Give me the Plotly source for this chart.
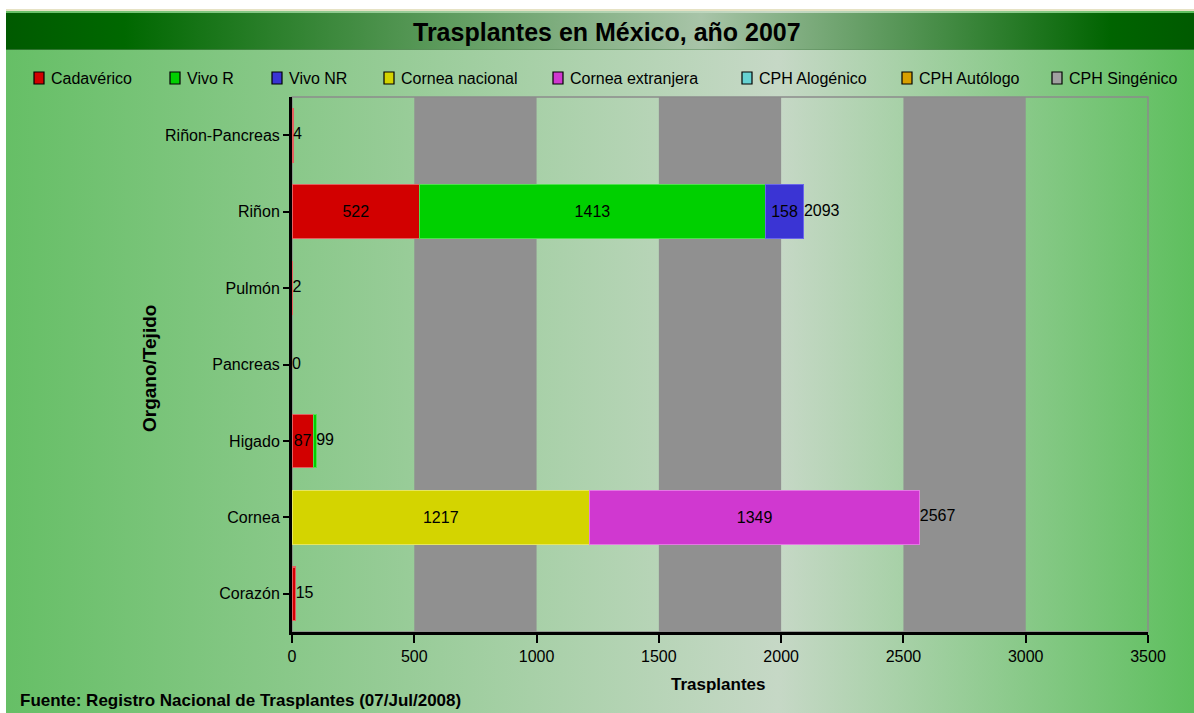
import base64
import plotly.graph_objects as go

# ---------------- data ----------------
categories = ["Riñon-Pancreas", "Riñon", "Pulmón", "Pancreas", "Higado", "Cornea", "Corazón"]
cadaverico = [4, 522, 2, 0, 87, 0, 15]
vivo_r = [0, 1413, 0, 0, 12, 0, 0]
vivo_nr = [0, 158, 0, 0, 0, 0, 0]
cornea_nacional = [0, 0, 0, 0, 0, 1217, 0]
cornea_extranjera = [0, 0, 0, 0, 0, 1349, 0]
cph_alogenico = [0, 0, 0, 0, 0, 0, 0]
cph_autologo = [0, 0, 0, 0, 0, 0, 0]
cph_singenico = [0, 0, 0, 0, 0, 0, 0]
totals = [4, 2093, 2, 0, 99, 2567, 15]
x_ticks = [0, 500, 1000, 1500, 2000, 2500, 3000, 3500]

series_names = ["Cadavérico", "Vivo R", "Vivo NR", "Cornea nacional", "Cornea extranjera",
                "CPH Alogénico", "CPH Autólogo", "CPH Singénico"]
series_values = [cadaverico, vivo_r, vivo_nr, cornea_nacional, cornea_extranjera,
                 cph_alogenico, cph_autologo, cph_singenico]

# ---------------- style ----------------
fill_colors = ["#d20000", "#00d000", "#3a34d4", "#d4d400", "#d038d0", "#66d2d2", "#d8a000", "#a0a0a0"]
edge_colors = ["#e46060", "#50e050", "#6a66ea", "#e6e660", "#e478e4", "#90e0e0", "#e8c040", "#c0c0c0"]
legend_swatch_x = [34, 170, 272, 384, 553, 742, 902, 1052]

W, H = 1194, 713
PL, PR, PT, PB = 292, 1148, 97, 632
FONT = "Liberation Sans, Arial, sans-serif"


def px_x(p):
    return (p - PL) / (PR - PL)


def px_y(p):
    return (PB - p) / (PB - PT)


fig = go.Figure()

for name, vals, fc, ec in zip(series_names, series_values, fill_colors, edge_colors):
    if not any(vals):
        continue
    fig.add_trace(go.Bar(
        name=name,
        y=categories,
        x=[v if v else None for v in vals],
        orientation="h",
        width=0.7,
        marker=dict(color=fc, line=dict(color=ec, width=1.2)),
        text=[str(v) if v >= 50 else "" for v in vals],
        textposition="inside",
        insidetextanchor="middle",
        textangle=0,
        constraintext="none",
        textfont=dict(family=FONT, size=16, color="black"),
        showlegend=False,
        cliponaxis=False,
    ))

fig.add_trace(go.Scatter(
    y=categories,
    x=totals,
    mode="text",
    text=[str(t) for t in totals],
    textposition="middle right",
    textfont=dict(family=FONT, size=16, color="black"),
    showlegend=False,
    hoverinfo="skip",
    cliponaxis=False,
))

# ---------------- background (gradient svg) ----------------
svg = f'''<svg xmlns="http://www.w3.org/2000/svg" width="{W}" height="{H}" viewBox="0 0 {W} {H}">
<defs>
<linearGradient id="bg" x1="0" y1="0" x2="1" y2="0">
<stop offset="0" stop-color="#66bf66"/>
<stop offset="0.65" stop-color="#c6d8c6"/>
<stop offset="1" stop-color="#5ebf5e"/>
</linearGradient>
<linearGradient id="tb" x1="0" y1="0" x2="1" y2="0">
<stop offset="0" stop-color="#005a00"/>
<stop offset="0.10" stop-color="#006800"/>
<stop offset="0.585" stop-color="#a8c4a8"/>
<stop offset="0.93" stop-color="#006400"/>
<stop offset="1" stop-color="#005a00"/>
</linearGradient>
</defs>
<rect x="0" y="0" width="{W}" height="{H}" fill="#ffffff"/>
<rect x="6" y="9" width="{W-6}" height="2" fill="#e6e2c4"/>
<rect x="6" y="11" width="{W-6}" height="{H-11}" fill="url(#bg)"/>
<rect x="6" y="13" width="{W-6}" height="37" fill="url(#tb)"/>
<rect x="6" y="49" width="{W-6}" height="1" fill="#5a8a5a" opacity="0.5"/>
</svg>'''
src = "data:image/svg+xml;base64," + base64.b64encode(svg.encode("utf-8")).decode("ascii")
fig.add_layout_image(dict(
    source=src, xref="paper", yref="paper",
    x=px_x(0), y=px_y(0), sizex=W / (PR - PL), sizey=H / (PB - PT),
    xanchor="left", yanchor="top", sizing="stretch", layer="below",
))

shapes = []
# alternating gray bands every other tick interval
for i in range(1, len(x_ticks) - 1, 2):
    shapes.append(dict(type="rect", xref="x", yref="paper", x0=x_ticks[i], x1=x_ticks[i + 1],
                       y0=0, y1=1, fillcolor="#909090", line=dict(width=0), layer="below"))
# plot border
shapes.append(dict(type="rect", xref="paper", yref="paper", x0=0, x1=1, y0=0, y1=1,
                   line=dict(color="#8c8c8c", width=1.5), fillcolor="rgba(0,0,0,0)", layer="below"))
# legend swatches
for sx, fc in zip(legend_swatch_x, fill_colors):
    shapes.append(dict(type="rect", xref="paper", yref="paper",
                       x0=px_x(sx), x1=px_x(sx + 10), y0=px_y(84), y1=px_y(72),
                       fillcolor=fc, line=dict(color="black", width=1.2), layer="above"))

annotations = [
    dict(text="<b>Trasplantes en México, año 2007</b>", xref="paper", yref="paper",
         x=px_x(607), y=px_y(32), xanchor="center", yanchor="middle", showarrow=False,
         font=dict(family=FONT, size=25, color="black")),
    dict(text="<b>Trasplantes</b>", xref="paper", yref="paper",
         x=px_x(718), y=px_y(684), xanchor="center", yanchor="middle", showarrow=False,
         font=dict(family=FONT, size=17, color="black")),
    dict(text="<b>Organo/Tejido</b>", xref="paper", yref="paper", textangle=-90,
         x=px_x(149), y=px_y(369), xanchor="center", yanchor="middle", showarrow=False,
         font=dict(family=FONT, size=19, color="black")),
    dict(text="<b>Fuente: Registro Nacional de Trasplantes (07/Jul/2008)</b>", xref="paper", yref="paper",
         x=px_x(18), y=px_y(700), xanchor="left", yanchor="middle", showarrow=False,
         font=dict(family=FONT, size=17, color="black")),
]
for sx, name in zip(legend_swatch_x, series_names):
    annotations.append(dict(text=name, xref="paper", yref="paper",
                            x=px_x(sx + 15), y=px_y(78), xanchor="left", yanchor="middle",
                            showarrow=False, font=dict(family=FONT, size=16, color="black")))

fig.update_layout(
    width=W, height=H,
    margin=dict(l=PL, r=W - PR, t=PT, b=H - PB, pad=0),
    paper_bgcolor="white",
    plot_bgcolor="rgba(0,0,0,0)",
    barmode="stack",
    bargap=0.3,
    showlegend=False,
    font=dict(family=FONT, size=16, color="black"),
    shapes=shapes,
    annotations=annotations,
    xaxis=dict(range=[0, 3500], tickvals=x_ticks, ticktext=[str(t) for t in x_ticks],
               ticks="outside", ticklen=8, tickwidth=2, tickcolor="black",
               showline=True, linewidth=3, linecolor="black", showgrid=False, zeroline=False,
               tickfont=dict(family=FONT, size=16, color="black")),
    yaxis=dict(categoryorder="array", categoryarray=categories, autorange="reversed",
               ticks="outside", ticklen=6, tickwidth=2, tickcolor="black",
               showline=True, linewidth=3, linecolor="black", showgrid=False, zeroline=False,
               tickfont=dict(family=FONT, size=16, color="black")),
)

fig.write_html("out.html",
               config={"displayModeBar": False},
               post_script="document.body.style.margin='0px';document.body.style.overflow='hidden';")
